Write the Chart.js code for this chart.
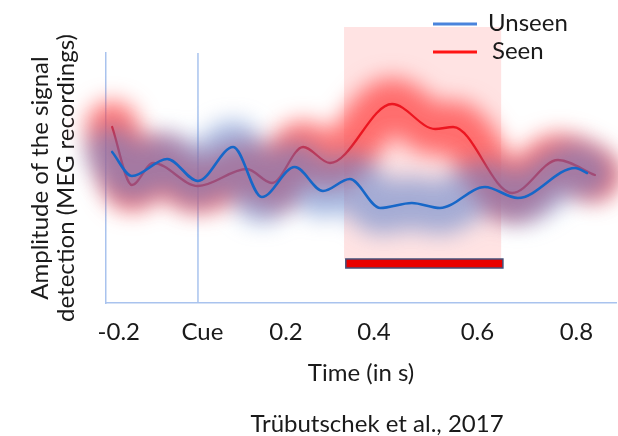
<!DOCTYPE html>
<html><head><meta charset="utf-8">
<script src="https://cdn.jsdelivr.net/npm/chart.js@4"></script>
<style>html,body{margin:0;padding:0;background:#fff}canvas{display:block}</style>
</head><body>
<canvas id="c" width="618" height="436"></canvas>
<script>
// ---- data ----
const tickValues = [-0.18, 0.01, 0.2, 0.4, 0.635, 0.86];
const tickLabels = ['-0.2', 'Cue', '0.2', '0.4', '0.6', '0.8'];
const seriesNames = ['Unseen', 'Seen'];
const unseenTime = [-0.195, -0.15, -0.07, 0, 0.08, 0.145, 0.22, 0.284, 0.345, 0.414, 0.486, 0.55, 0.652, 0.727, 0.857, 0.884];
const unseenAmp  = [60.4, 50.8, 57.6, 48.8, 62.4, 42.4, 54.4, 44.8, 49.6, 38, 40, 38, 46.4, 42, 54, 52];
const seenTime = [-0.195, -0.15, -0.102, 0, 0.111, 0.168, 0.239, 0.3, 0.441, 0.539, 0.58, 0.714, 0.818, 0.902];
const seenAmp  = [70.4, 47.2, 56, 46.8, 53.6, 48, 62.4, 56, 79.6, 69.6, 70.4, 44, 57.2, 51.2];
const cueTime = 0;
const windowTime = [0.332, 0.689];
const windowAmp = [17.6, 110.4];
const barTime = [0.336, 0.693];
const barAmp = [14, 17.6];
const citation = 'Trübutschek et al., 2017';
const xTitle = 'Time (in s)';
const yTitle = ['Amplitude of the signal', 'detection (MEG recordings)'];

const FONT = 'Lato, "Open Sans", sans-serif';
const AXIS_BLUE = '#a9c3ee';
const BLUE = '#1767c8', RED = '#ec1620';
const TEXT = '#1a1a1a';

const pts = (t, a) => t.map((v, i) => ({x: v, y: a[i]}));

const overlay = {
  id: 'overlay',
  beforeDatasetsDraw(chart) {
    const {ctx, scales: {x, y}} = chart;
    ctx.save();
    const x0 = x.getPixelForValue(windowTime[0]), x1 = x.getPixelForValue(windowTime[1]);
    const y0 = y.getPixelForValue(windowAmp[1]), y1 = y.getPixelForValue(windowAmp[0]);
    ctx.fillStyle = 'rgba(255,150,150,0.27)';
    ctx.fillRect(x0, y0, x1 - x0, y1 - y0);
    const cx = x.getPixelForValue(cueTime);
    ctx.strokeStyle = AXIS_BLUE; ctx.lineWidth = 1.5;
    ctx.beginPath(); ctx.moveTo(cx, chart.chartArea.top); ctx.lineTo(cx, chart.chartArea.bottom); ctx.stroke();
    ctx.restore();
  },
  beforeDatasetDraw(chart, args) {
    const ds = chart.data.datasets[args.index];
    chart.ctx.save();
    if (ds.glow) chart.ctx.filter = 'blur(11px)';
  },
  afterDatasetDraw(chart) { chart.ctx.restore(); },
  afterDatasetsDraw(chart) {
    const {ctx, scales: {x, y}} = chart;
    ctx.save();
    // significance bar
    const bx0 = x.getPixelForValue(barTime[0]), bx1 = x.getPixelForValue(barTime[1]);
    const by0 = y.getPixelForValue(barAmp[1]), by1 = y.getPixelForValue(barAmp[0]);
    ctx.fillStyle = '#e80000'; ctx.strokeStyle = '#44507a'; ctx.lineWidth = 1.5;
    ctx.fillRect(bx0, by0, bx1 - bx0, by1 - by0);
    ctx.strokeRect(bx0, by0, bx1 - bx0, by1 - by0);
    // legend
    const lines = chart.data.datasets.filter(d => !d.glow);
    ctx.font = '24px ' + FONT; ctx.textBaseline = 'middle'; ctx.fillStyle = TEXT;
    const legColors = ['#4a84dc', '#ff1414'];
    lines.forEach((d, i) => {
      const ly = 24 + i * 28;
      ctx.strokeStyle = legColors[i]; ctx.lineWidth = 3;
      ctx.beginPath(); ctx.moveTo(433, ly); ctx.lineTo(477, ly); ctx.stroke();
      ctx.fillText(d.label, 488 + i * 4, ly - 1);
    });
    // citation
    ctx.textAlign = 'center';
    ctx.fillText(citation, 377, 424);
    ctx.restore();
  }
};

new Chart(document.getElementById('c'), {
  type: 'line',
  data: {
    datasets: [
      {label: seriesNames[0], data: pts(unseenTime, unseenAmp), borderColor: BLUE, borderWidth: 2.6, order: 0},
      {label: seriesNames[0] + ' glow', glow: true, data: pts(unseenTime, unseenAmp), borderColor: 'rgba(90,125,200,0.55)', borderWidth: 52, order: 1, clip: false},
      {label: seriesNames[1], data: pts(seenTime, seenAmp), borderColor: RED, borderWidth: 2.3, order: 2},
      {label: seriesNames[1] + ' glow', glow: true, data: pts(seenTime, seenAmp), borderColor: 'rgba(255,70,70,0.75)', borderWidth: 52, order: 3, clip: false}
    ]
  },
  options: {
    responsive: false,
    animation: false,
    devicePixelRatio: 1,
    elements: {point: {radius: 0}, line: {cubicInterpolationMode: 'monotone', borderCapStyle: 'round', borderJoinStyle: 'round'}},
    layout: {padding: {top: 53, right: 2, left: 0, bottom: 30}},
    plugins: {legend: {display: false}, tooltip: {enabled: false}},
    scales: {
      x: {
        type: 'linear', min: -0.209, max: 0.95,
        grid: {display: false, drawTicks: false},
        border: {color: AXIS_BLUE, width: 1.5},
        afterBuildTicks: s => { s.ticks = tickValues.map(v => ({value: v})); },
        afterFit: s => { s.height = 103; },
        ticks: {autoSkip: false, maxRotation: 0, padding: 15, color: TEXT, font: {family: FONT, size: 24},
          callback: (v, i) => tickLabels[i]},
        title: {display: true, text: xTitle, color: TEXT, font: {family: FONT, size: 24}, padding: {top: 0, bottom: 18}}
      },
      y: {
        min: 0, max: 100,
        grid: {display: false, drawTicks: false},
        border: {color: AXIS_BLUE, width: 1.5},
        ticks: {display: false},
        afterFit: s => { s.width = 106; },
        title: {display: true, text: yTitle, color: TEXT, font: {family: FONT, size: 24, lineHeight: 1.08}, padding: {top: 27, bottom: 0}}
      }
    }
  },
  plugins: [overlay]
});
</script>
</body></html>
